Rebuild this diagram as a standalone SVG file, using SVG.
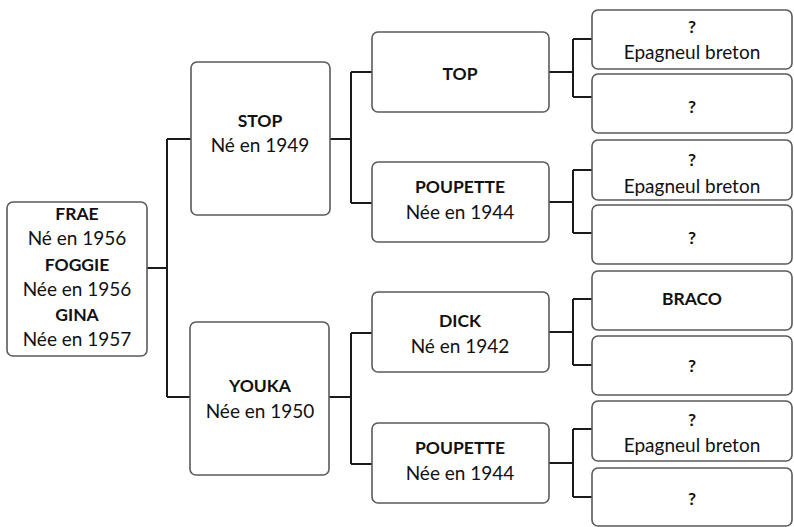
<svg xmlns="http://www.w3.org/2000/svg" width="794" height="527" viewBox="0 0 794 527">
<style>
.box{fill:#fff;stroke:#5a5a5a;stroke-width:1.6}
.con{fill:none;stroke:#1a1a1a;stroke-width:2}
text{font-family:Lato,"Open Sans","Liberation Sans",sans-serif;font-size:19px;fill:#111;text-anchor:middle}
.b{font-weight:bold;font-size:17.5px}
</style>
<rect width="794" height="527" fill="#fff"/>
<g id="connectors">
<path class="con" d="M147,268H167M167,139V397M167,139H191M167,397H190"/>
<path class="con" d="M330,139H351M351,72V203M351,72H372M351,203H372"/>
<path class="con" d="M329,397H351M351,333V464M351,333H372M351,464H372"/>
<path class="con" d="M549,72H573M573,39V97M573,39H592M573,97H592"/>
<path class="con" d="M549,202H573M573,170V233M573,170H592M573,233H592"/>
<path class="con" d="M549,332H573M573,299V365M573,299H592M573,365H592"/>
<path class="con" d="M549,463H573M573,429V497M573,429H592M573,497H592"/>
</g>
<g id="n-frae">
<rect class="box" x="7" y="202" width="140" height="154" rx="6"/>
<text x="77" y="220" class="b">FRAE</text>
<text x="77" y="245">Né en 1956</text>
<text x="77" y="271" class="b">FOGGIE</text>
<text x="77" y="296">Née en 1956</text>
<text x="77" y="321" class="b">GINA</text>
<text x="77" y="346">Née en 1957</text>
</g>
<g id="n-stop">
<rect class="box" x="191" y="62" width="139" height="153" rx="6"/>
<text x="260" y="127" class="b">STOP</text>
<text x="260" y="152">Né en 1949</text>
</g>
<g id="n-youka">
<rect class="box" x="190" y="322" width="139" height="153" rx="6"/>
<text x="260" y="392" class="b">YOUKA</text>
<text x="260" y="418">Née en 1950</text>
</g>
<g id="n-top">
<rect class="box" x="372" y="32" width="177" height="80" rx="6"/>
<text x="460" y="80" class="b">TOP</text>
</g>
<g id="n-poupette1">
<rect class="box" x="372" y="162" width="177" height="80" rx="6"/>
<text x="460" y="193" class="b">POUPETTE</text>
<text x="460" y="219">Née en 1944</text>
</g>
<g id="n-dick">
<rect class="box" x="372" y="292" width="177" height="80" rx="6"/>
<text x="460" y="327" class="b">DICK</text>
<text x="460" y="353">Né en 1942</text>
</g>
<g id="n-poupette2">
<rect class="box" x="372" y="423" width="177" height="80" rx="6"/>
<text x="460" y="454" class="b">POUPETTE</text>
<text x="460" y="480">Née en 1944</text>
</g>
<g id="n-r1">
<rect class="box" x="592" y="10" width="200" height="59" rx="6"/>
<text x="692" y="33" class="b">?</text>
<text x="692" y="59">Epagneul breton</text>
</g>
<g id="n-r2">
<rect class="box" x="592" y="74" width="200" height="59" rx="6"/>
<text x="692" y="113" class="b">?</text>
</g>
<g id="n-r3">
<rect class="box" x="592" y="140" width="200" height="60" rx="6"/>
<text x="692" y="166" class="b">?</text>
<text x="692" y="193">Epagneul breton</text>
</g>
<g id="n-r4">
<rect class="box" x="592" y="205" width="200" height="59" rx="6"/>
<text x="692" y="244" class="b">?</text>
</g>
<g id="n-braco">
<rect class="box" x="592" y="271" width="200" height="59" rx="6"/>
<text x="692" y="305" class="b">BRACO</text>
</g>
<g id="n-r6">
<rect class="box" x="592" y="336" width="200" height="59" rx="6"/>
<text x="692" y="372" class="b">?</text>
</g>
<g id="n-r7">
<rect class="box" x="592" y="401" width="200" height="60" rx="6"/>
<text x="692" y="426" class="b">?</text>
<text x="692" y="452">Epagneul breton</text>
</g>
<g id="n-r8">
<rect class="box" x="592" y="468" width="200" height="58" rx="6"/>
<text x="692" y="505" class="b">?</text>
</g>
</svg>
